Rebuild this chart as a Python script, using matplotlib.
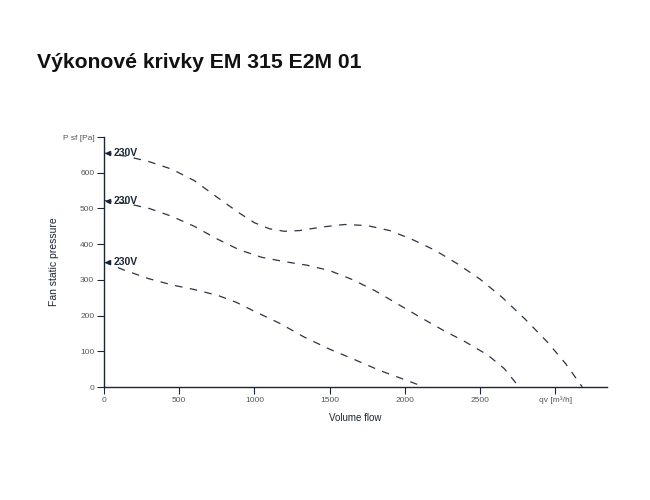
import matplotlib
matplotlib.use("Agg")
import matplotlib.pyplot as plt

plt.rcParams['font.family'] = ['Liberation Sans', 'DejaVu Sans']

title = "Výkonové krivky EM 315 E2M 01"
x_label = "Volume flow"
y_label = "Fan static pressure"
curve_label = "230V"

x_ticks = [0, 500, 1000, 1500, 2000, 2500, 3000]
x_tick_labels = ["0", "500", "1000", "1500", "2000", "2500", "qv [m³/h]"]
y_ticks = [0, 100, 200, 300, 400, 500, 600, 700]
y_tick_labels = ["0", "100", "200", "300", "400", "500", "600", "P sf [Pa]"]

top_q = [0, 150, 300, 450, 600, 750, 900, 1000, 1100, 1200, 1300, 1450, 1600,
         1750, 1900, 2050, 2200, 2350, 2500, 2650, 2800, 2950, 3070, 3180]
top_p = [655, 646, 631, 610, 578, 532, 487, 460, 443, 436, 438, 448, 455,
         452, 438, 413, 383, 345, 302, 250, 190, 125, 65, 0]

mid_q = [0, 150, 300, 450, 600, 750, 900, 1050, 1200, 1350, 1500, 1650, 1800,
         1950, 2100, 2250, 2400, 2550, 2660, 2760]
mid_p = [522, 514, 500, 478, 450, 415, 384, 363, 351, 341, 326, 301, 270,
         233, 196, 160, 127, 90, 52, 0]

low_q = [0, 130, 300, 460, 600, 760, 880, 1000, 1170, 1330, 1500, 1670, 1835,
         1990, 2130]
low_p = [350, 328, 303, 285, 273, 256, 237, 212, 178, 140, 106, 76, 46,
         22, 0]

curves = [(top_q, top_p), (mid_q, mid_p), (low_q, low_p)]

fig = plt.figure(figsize=(6.5, 5), dpi=100)
ax = fig.add_axes([0.16, 0.226, 0.774, 0.5])

line_color = "#2b3442"
axis_color = "#1c2533"

for q, p in curves:
    ax.plot(q, p, color=line_color, lw=0.9, dashes=(6, 6),
            solid_joinstyle="round", dash_joinstyle="round")
    ax.plot([q[0] + 25], [p[0]], marker="<", color=axis_color, ms=3, clip_on=False)
    ax.text(q[0] + 65, p[0], curve_label, fontsize=7.5, fontweight="bold",
            color=axis_color, va="center", ha="left")

ax.set_xlim(0, 3345)
ax.set_ylim(0, 700)
ax.set_xticks(x_ticks)
ax.set_xticklabels(x_tick_labels)
ax.set_yticks(y_ticks)
ax.set_yticklabels(y_tick_labels)

for s in ["top", "right"]:
    ax.spines[s].set_visible(False)
for s in ["left", "bottom"]:
    ax.spines[s].set_color(axis_color)
    ax.spines[s].set_linewidth(1.0)

ax.tick_params(axis="both", colors=axis_color, labelcolor="#555555",
               labelsize=6, length=5, width=0.8, direction="out", pad=2)

ax.set_xlabel(x_label, fontsize=7, color=axis_color, labelpad=6)
ax.set_ylabel(y_label, fontsize=7.5, color=axis_color)
ax.yaxis.set_label_coords(-0.09, 0.5)

fig.text(37 / 650, 1 - 62 / 500, title, fontsize=15.2, fontweight="bold",
         color="#111111", va="center", ha="left")

fig.savefig("out.png", dpi=100, facecolor="white")
